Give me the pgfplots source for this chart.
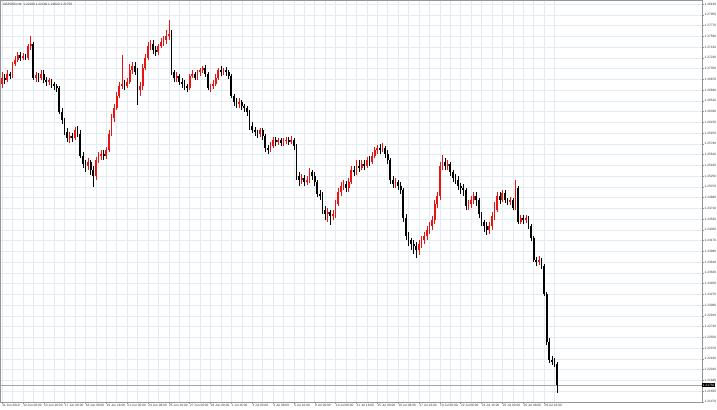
\documentclass[border=0pt]{standalone}
\usepackage{pgfplots}
\usepackage{pgfplotstable}
\pgfplotsset{compat=1.18}
\usepackage{fontspec}
\setmainfont{Liberation Sans}

\definecolor{gridc}{RGB}{226,236,243}
\definecolor{framec}{RGB}{150,150,150}
\definecolor{bull}{RGB}{232,20,20}
\newcommand\mt{\fontsize{3.2}{3.6}\selectfont}

% GBPUSD H4 candles: bar, open, high, low, close
\pgfplotstableread{
i o h l c
0 1.2679 1.2699 1.2672 1.2689
1 1.2689 1.2696 1.2679 1.2686
2 1.2686 1.2702 1.2682 1.2696
3 1.2696 1.2699 1.2687 1.2692
4 1.2692 1.2716 1.2689 1.2713
5 1.2713 1.2726 1.2709 1.2719
6 1.2719 1.2733 1.2716 1.2728
7 1.2728 1.2733 1.2718 1.2723
8 1.2723 1.2731 1.2719 1.2726
9 1.2726 1.2729 1.2719 1.2723
10 1.2723 1.2746 1.2719 1.2743
11 1.2743 1.2759 1.2736 1.2746
12 1.2746 1.2749 1.2686 1.2689
13 1.2689 1.2699 1.2682 1.2694
14 1.2694 1.2698 1.2682 1.2689
15 1.2689 1.2703 1.2686 1.2696
16 1.2696 1.2703 1.2681 1.2686
17 1.2686 1.2691 1.2676 1.2682
18 1.2682 1.2689 1.2677 1.2686
19 1.2686 1.2687 1.2672 1.2679
20 1.2679 1.2682 1.2669 1.2676
21 1.2676 1.2679 1.2666 1.2672
22 1.2672 1.2676 1.2629 1.2632
23 1.2632 1.2639 1.2612 1.2619
24 1.2619 1.2622 1.2594 1.2599
25 1.2599 1.2605 1.2582 1.2589
26 1.2589 1.2599 1.2580 1.2592
27 1.2592 1.2597 1.2582 1.2589
28 1.2589 1.2607 1.2585 1.2602
29 1.2602 1.2609 1.2590 1.2595
30 1.2595 1.2602 1.2555 1.2559
31 1.2559 1.2565 1.2538 1.2545
32 1.2545 1.2552 1.2532 1.2542
33 1.2542 1.2555 1.2535 1.2549
34 1.2549 1.2552 1.2527 1.2535
35 1.2535 1.2542 1.2507 1.2525
36 1.2525 1.2557 1.2518 1.2552
37 1.2552 1.2565 1.2547 1.2559
38 1.2559 1.2569 1.2552 1.2562
39 1.2562 1.2569 1.2552 1.2559
40 1.2559 1.2574 1.2554 1.2569
41 1.2569 1.2602 1.2565 1.2595
42 1.2595 1.2629 1.2592 1.2622
43 1.2622 1.2646 1.2615 1.2639
44 1.2639 1.2666 1.2636 1.2659
45 1.2659 1.2682 1.2656 1.2676
46 1.2676 1.2728 1.2671 1.2679
47 1.2679 1.2686 1.2669 1.2676
48 1.2676 1.2689 1.2672 1.2682
49 1.2682 1.2713 1.2679 1.2703
50 1.2703 1.2716 1.2696 1.2709
51 1.2709 1.2716 1.2694 1.2699
52 1.2699 1.2706 1.2644 1.2669
53 1.2669 1.2682 1.2659 1.2676
54 1.2676 1.2713 1.2669 1.2706
55 1.2706 1.2729 1.2703 1.2723
56 1.2723 1.2749 1.2719 1.2743
57 1.2743 1.2753 1.2736 1.2746
58 1.2746 1.2753 1.2729 1.2736
59 1.2736 1.2743 1.2726 1.2733
60 1.2733 1.2746 1.2728 1.2743
61 1.2743 1.2756 1.2739 1.2749
62 1.2749 1.2759 1.2743 1.2753
63 1.2753 1.2770 1.2746 1.2759
64 1.2759 1.2786 1.2753 1.2763
65 1.2763 1.2770 1.2694 1.2699
66 1.2699 1.2703 1.2682 1.2689
67 1.2689 1.2699 1.2682 1.2692
68 1.2692 1.2696 1.2677 1.2682
69 1.2682 1.2689 1.2672 1.2679
70 1.2679 1.2686 1.2669 1.2676
71 1.2676 1.2679 1.2666 1.2672
72 1.2672 1.2696 1.2669 1.2692
73 1.2692 1.2703 1.2689 1.2696
74 1.2696 1.2699 1.2686 1.2689
75 1.2689 1.2703 1.2686 1.2699
76 1.2699 1.2706 1.2692 1.2703
77 1.2703 1.2709 1.2698 1.2706
78 1.2706 1.2711 1.2691 1.2696
79 1.2696 1.2699 1.2669 1.2672
80 1.2672 1.2679 1.2666 1.2676
81 1.2676 1.2686 1.2671 1.2679
82 1.2679 1.2696 1.2676 1.2689
83 1.2689 1.2706 1.2686 1.2703
84 1.2703 1.2709 1.2692 1.2699
85 1.2699 1.2706 1.2694 1.2703
86 1.2703 1.2708 1.2692 1.2699
87 1.2699 1.2703 1.2687 1.2692
88 1.2692 1.2696 1.2656 1.2659
89 1.2659 1.2662 1.2642 1.2649
90 1.2649 1.2656 1.2639 1.2646
91 1.2646 1.2656 1.2639 1.2649
92 1.2649 1.2652 1.2636 1.2642
93 1.2642 1.2646 1.2632 1.2639
94 1.2639 1.2642 1.2626 1.2632
95 1.2632 1.2636 1.2602 1.2609
96 1.2609 1.2615 1.2597 1.2602
97 1.2602 1.2607 1.2592 1.2599
98 1.2599 1.2602 1.2589 1.2595
99 1.2595 1.2605 1.2590 1.2602
100 1.2602 1.2605 1.2585 1.2592
101 1.2592 1.2595 1.2565 1.2572
102 1.2572 1.2577 1.2562 1.2569
103 1.2569 1.2582 1.2565 1.2575
104 1.2575 1.2590 1.2572 1.2585
105 1.2585 1.2590 1.2575 1.2582
106 1.2582 1.2589 1.2577 1.2585
107 1.2585 1.2589 1.2575 1.2580
108 1.2580 1.2589 1.2575 1.2584
109 1.2584 1.2590 1.2579 1.2585
110 1.2585 1.2590 1.2577 1.2582
111 1.2582 1.2592 1.2579 1.2585
112 1.2585 1.2589 1.2569 1.2575
113 1.2575 1.2579 1.2518 1.2525
114 1.2525 1.2532 1.2508 1.2518
115 1.2518 1.2528 1.2512 1.2522
116 1.2522 1.2527 1.2508 1.2515
117 1.2515 1.2525 1.2510 1.2518
118 1.2518 1.2538 1.2513 1.2532
119 1.2532 1.2535 1.2518 1.2525
120 1.2525 1.2532 1.2508 1.2515
121 1.2515 1.2518 1.2490 1.2495
122 1.2495 1.2502 1.2485 1.2492
123 1.2492 1.2498 1.2461 1.2468
124 1.2468 1.2475 1.2451 1.2461
125 1.2461 1.2471 1.2448 1.2465
126 1.2465 1.2468 1.2443 1.2458
127 1.2458 1.2468 1.2451 1.2461
128 1.2461 1.2485 1.2455 1.2478
129 1.2478 1.2505 1.2475 1.2498
130 1.2498 1.2515 1.2492 1.2508
131 1.2508 1.2518 1.2502 1.2512
132 1.2512 1.2517 1.2498 1.2505
133 1.2505 1.2522 1.2498 1.2515
134 1.2515 1.2542 1.2512 1.2535
135 1.2535 1.2542 1.2525 1.2532
136 1.2532 1.2552 1.2527 1.2542
137 1.2542 1.2552 1.2532 1.2538
138 1.2538 1.2552 1.2535 1.2545
139 1.2545 1.2552 1.2535 1.2542
140 1.2542 1.2557 1.2538 1.2552
141 1.2552 1.2559 1.2542 1.2549
142 1.2549 1.2565 1.2545 1.2559
143 1.2559 1.2574 1.2555 1.2569
144 1.2569 1.2577 1.2562 1.2572
145 1.2572 1.2579 1.2562 1.2569
146 1.2569 1.2580 1.2565 1.2572
147 1.2572 1.2575 1.2555 1.2562
148 1.2562 1.2569 1.2545 1.2552
149 1.2552 1.2555 1.2512 1.2518
150 1.2518 1.2525 1.2505 1.2512
151 1.2512 1.2522 1.2505 1.2515
152 1.2515 1.2518 1.2502 1.2508
153 1.2508 1.2515 1.2495 1.2502
154 1.2502 1.2505 1.2448 1.2455
155 1.2455 1.2461 1.2418 1.2425
156 1.2425 1.2431 1.2408 1.2418
157 1.2418 1.2421 1.2401 1.2411
158 1.2411 1.2418 1.2394 1.2408
159 1.2408 1.2415 1.2388 1.2401
160 1.2401 1.2418 1.2393 1.2411
161 1.2411 1.2425 1.2405 1.2418
162 1.2418 1.2431 1.2411 1.2425
163 1.2425 1.2441 1.2418 1.2435
164 1.2435 1.2448 1.2428 1.2441
165 1.2441 1.2458 1.2435 1.2451
166 1.2451 1.2485 1.2445 1.2478
167 1.2478 1.2498 1.2471 1.2492
168 1.2492 1.2549 1.2485 1.2542
169 1.2542 1.2560 1.2535 1.2549
170 1.2549 1.2555 1.2535 1.2542
171 1.2542 1.2552 1.2535 1.2545
172 1.2545 1.2549 1.2525 1.2532
173 1.2532 1.2535 1.2515 1.2522
174 1.2522 1.2528 1.2512 1.2518
175 1.2518 1.2525 1.2502 1.2508
176 1.2508 1.2513 1.2495 1.2505
177 1.2505 1.2512 1.2492 1.2502
178 1.2502 1.2505 1.2468 1.2475
179 1.2475 1.2485 1.2468 1.2478
180 1.2478 1.2492 1.2471 1.2485
181 1.2485 1.2498 1.2478 1.2492
182 1.2492 1.2498 1.2475 1.2485
183 1.2485 1.2488 1.2455 1.2461
184 1.2461 1.2465 1.2441 1.2448
185 1.2448 1.2451 1.2431 1.2441
186 1.2441 1.2448 1.2426 1.2435
187 1.2435 1.2448 1.2428 1.2441
188 1.2441 1.2465 1.2435 1.2458
189 1.2458 1.2481 1.2451 1.2475
190 1.2468 1.2498 1.2465 1.2492
191 1.2492 1.2498 1.2478 1.2485
192 1.2485 1.2502 1.2481 1.2497
193 1.2497 1.2502 1.2480 1.2485
194 1.2485 1.2488 1.2476 1.2481
195 1.2481 1.2490 1.2476 1.2485
196 1.2485 1.2488 1.2468 1.2471
197 1.2471 1.2518 1.2468 1.2505
198 1.2505 1.2508 1.2445 1.2448
199 1.2448 1.2460 1.2445 1.2455
200 1.2455 1.2460 1.2445 1.2451
201 1.2451 1.2460 1.2446 1.2455
202 1.2455 1.2458 1.2436 1.2441
203 1.2441 1.2445 1.2416 1.2421
204 1.2421 1.2425 1.2381 1.2384
205 1.2384 1.2390 1.2374 1.2381
206 1.2381 1.2391 1.2376 1.2384
207 1.2384 1.2388 1.2369 1.2374
208 1.2374 1.2378 1.2324 1.2327
209 1.2327 1.2331 1.2242 1.2247
210 1.2247 1.2254 1.2212 1.2217
211 1.2217 1.2224 1.2209 1.2214
212 1.2214 1.2220 1.2205 1.2210
213 1.2210 1.2214 1.2162 1.2175
}\candles

\begin{document}
\begin{tikzpicture}
\begin{axis}[
  at={(0,0)}, anchor=north west,
  scale only axis, width=702bp, height=402bp,
  xmin=-0.77, xmax=268.6,
  ymin=1.21466, ymax=1.28197,
  axis line style={framec, line width=0.6bp},
  grid=both,
  major grid style={gridc, line width=0.5bp},
  minor grid style={gridc, line width=0.5bp},
  xtick={0,8,...,208},
  minor xtick={4,12,...,212},
  xticklabels={11 Jun 2019, 12 Jun 08:00, 13 Jun 16:00, 17 Jun 00:00, 18 Jun 08:00, 19 Jun 16:00, 21 Jun 00:00, 24 Jun 08:00, 25 Jun 16:00, 27 Jun 00:00, 28 Jun 08:00, 1 Jul 16:00, 3 Jul 00:00, 4 Jul 08:00, 5 Jul 16:00, 9 Jul 00:00, 10 Jul 08:00, 11 Jul 16:00, 15 Jul 00:00, 16 Jul 08:00, 17 Jul 16:00, 19 Jul 00:00, 22 Jul 08:00, 23 Jul 16:00, 25 Jul 00:00, 26 Jul 08:00, 29 Jul 16:00},
  ytick={1.28130,1.27950,1.27770,1.27590,1.27410,1.27230,1.27050,1.26870,1.26690,1.26510,1.26330,1.26150,1.25970,1.25790,1.25610,1.25430,1.25250,1.25070,1.24890,1.24710,1.24530,1.24350,1.24170,1.23990,1.23810,1.23630,1.23450,1.23270,1.23090,1.22910,1.22730,1.22550,1.22370,1.22190,1.22010,1.21830,1.21650,1.21470},
  xtick pos=left, ytick pos=right,
  yticklabel pos=right,
  tick align=outside,
  major tick length=1.8bp, minor tick length=0pt,
  tick style={framec, line width=0.4bp},
  xticklabel style={font=\mt, text=black!80, anchor=north west, inner sep=0.6bp, xshift=-0.4bp},
  yticklabel style={font=\mt, text=black!80, anchor=west, inner sep=0.6bp,
    /pgf/number format/.cd, fixed, fixed zerofill, precision=5, assume math mode=true},
  clip=false,
]
% bid line
\addplot[black!35, line width=0.5bp, mark=none, forget plot] coordinates {(-0.77,1.2175) (268.6,1.2175)};
% wicks (low to high)
\addplot[bull, line width=0.55bp, mark=none, forget plot,
  quiver={u=0, v={\thisrow{h}-\thisrow{l}}}]
  table[x=i, y expr={\thisrow{c}>\thisrow{o} ? \thisrow{l} : nan}] {\candles};
\addplot[black, line width=0.55bp, mark=none, forget plot,
  quiver={u=0, v={\thisrow{h}-\thisrow{l}}}]
  table[x=i, y expr={\thisrow{c}<\thisrow{o} ? \thisrow{l} : nan}] {\candles};
% bodies (open to close)
\addplot[bull, line width=1.8bp, mark=none, forget plot,
  quiver={u=0, v={\thisrow{c}-\thisrow{o}}}]
  table[x=i, y expr={\thisrow{c}>\thisrow{o} ? \thisrow{o} : nan}] {\candles};
\addplot[black, line width=1.8bp, mark=none, forget plot,
  quiver={u=0, v={\thisrow{c}-\thisrow{o}}}]
  table[x=i, y expr={\thisrow{c}<\thisrow{o} ? \thisrow{o} : nan}] {\candles};
% current price tag and title
\node[fill=black, text=white, font=\mt, anchor=west, inner sep=0.7bp] at (axis cs:268.6,1.2175) {1.21750};
\node[font=\mt, text=black!85, anchor=north west, inner sep=0pt] at ([xshift=3bp, yshift=-3bp]rel axis cs:0,1) {GBPUSD,H4\ \ 1.22100 1.22140 1.21620 1.21750};
\end{axis}
\pgfresetboundingbox
\path[use as bounding box] (0,0) rectangle (717bp,-410bp);
\end{tikzpicture}
\end{document}
